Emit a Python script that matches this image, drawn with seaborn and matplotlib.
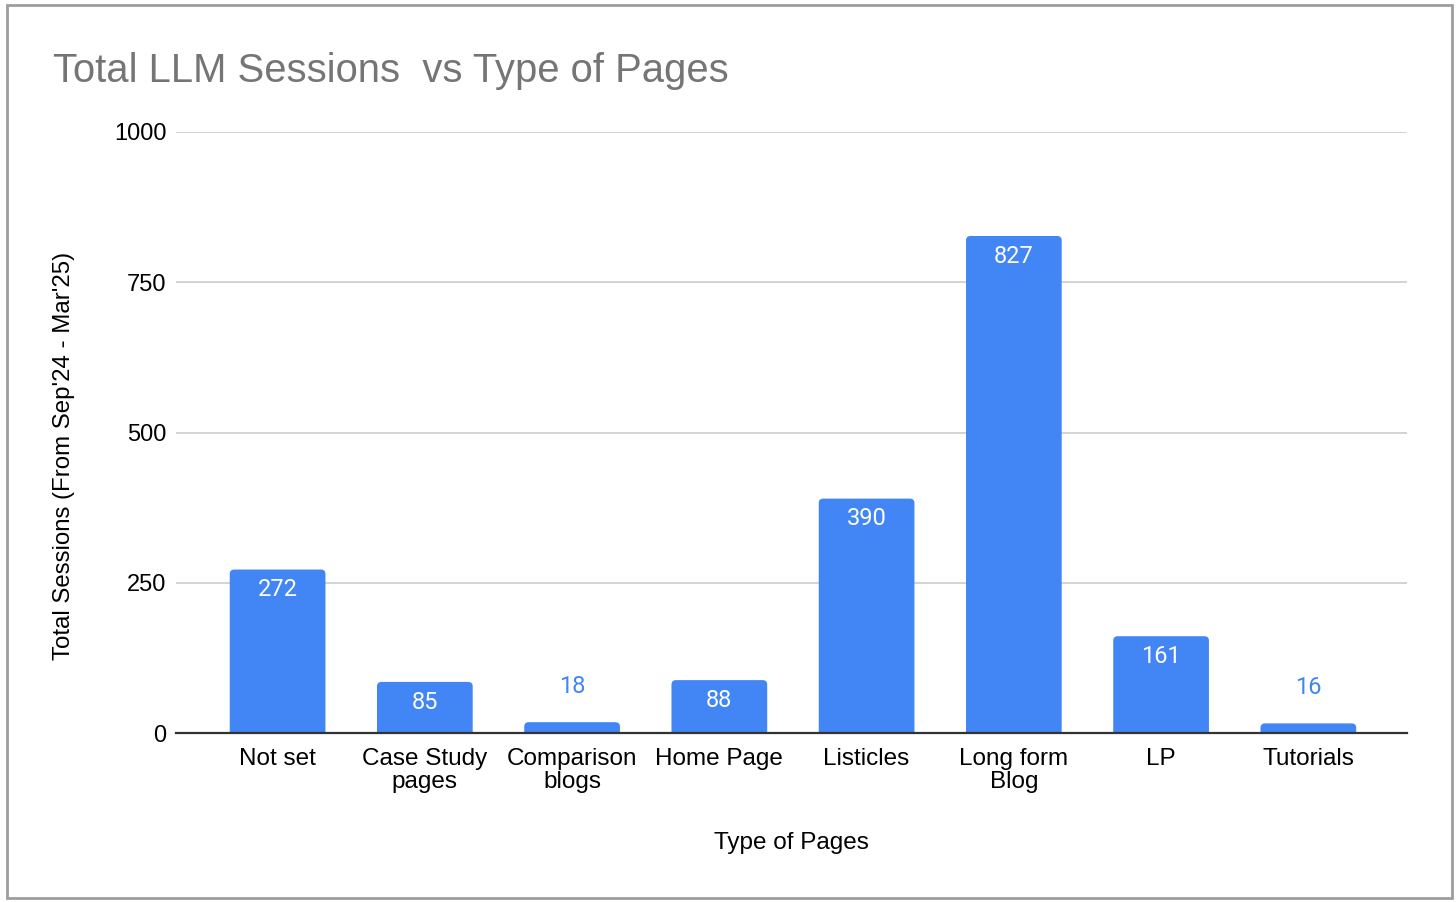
import numpy as np
import pandas as pd
import matplotlib
matplotlib.use("Agg")
import matplotlib.pyplot as plt
from matplotlib.patches import Rectangle, FancyBboxPatch
import seaborn as sns

# values
categories = ["Not set", "Case Study\npages", "Comparison\nblogs", "Home Page",
              "Listicles", "Long form\nBlog", "LP", "Tutorials"]
sessions = [272, 85, 18, 88, 390, 827, 161, 16]
y_ticks = [0, 250, 500, 750, 1000]

BLUE = "#4285f4"

sns.set_style("white")
plt.rcParams["font.family"] = ["Liberation Sans", "DejaVu Sans"]

df = pd.DataFrame({"Type of Pages": categories, "Sessions": sessions})

W, H = 1456, 902
fig = plt.figure(figsize=(W / 100, H / 100), dpi=100)
ax = fig.add_axes([176 / W, 1 - 733 / H, (1407 - 176) / W, (733 - 132) / H])

sns.barplot(data=df, x="Type of Pages", y="Sessions", color=BLUE, saturation=1,
            width=0.65, ax=ax, zorder=3)

ax.set_ylim(0, 1000)
ax.set_xlim(-0.69, 7.67)

# swap the plain rectangles for ones with softly rounded tops
px_x = (1407 - 176) / (7.67 + 0.69)   # pixels per x unit
px_y = (733 - 132) / 1000             # pixels per y unit
aspect = px_x / px_y
for rect in list(ax.patches):
    x, w, h = rect.get_x(), rect.get_width(), rect.get_height()
    rect.remove()
    ax.add_patch(FancyBboxPatch((x, -10), w, h + 10,
                                boxstyle=f"round,pad=0,rounding_size={4.5 / px_x}",
                                mutation_aspect=aspect, facecolor=BLUE,
                                edgecolor="none", zorder=3, clip_on=True))

ax.set_yticks(y_ticks)
ax.set_yticklabels([str(t) for t in y_ticks], fontsize=17, color="black")
ax.tick_params(axis="y", length=0, pad=7)
ax.tick_params(axis="x", length=0, pad=11, labelsize=17.5, labelcolor="black")
for lab in ax.get_xticklabels():
    lab.set_linespacing(1.05)
    lab.set_verticalalignment("top")
ax.grid(axis="y", color="#cccccc", linewidth=1.2, zorder=0)
ax.grid(axis="x", visible=False)
for side in ["top", "right", "left"]:
    ax.spines[side].set_visible(False)
ax.spines["bottom"].set_color("#333333")
ax.spines["bottom"].set_linewidth(1.6)
ax.spines["bottom"].set_zorder(4)

ax.set_xlabel("Type of Pages", fontsize=17.5, color="black", labelpad=28)
ax.set_ylabel("")
fig.text(64 / W, 1 - 456 / H, "Total Sessions (From Sep'24 - Mar'25)",
         fontsize=17.3, color="black", rotation=90, ha="center", va="center")

# value labels: white inside tall bars, blue above short ones
for i, v in enumerate(sessions):
    if v >= 50:
        ax.annotate(str(v), (i, v), xytext=(0, -14.5), textcoords="offset points",
                    ha="center", va="center", color="white", fontsize=17,
                    family=["Roboto", "DejaVu Sans"], zorder=5)
    else:
        ax.annotate(str(v), (i, v), xytext=(0, 26), textcoords="offset points",
                    ha="center", va="center", color=BLUE, fontsize=17,
                    family=["Roboto", "DejaVu Sans"], zorder=5)

fig.text(53 / W, 1 - 71 / H, "Total LLM Sessions  vs Type of Pages",
         fontsize=28.8, color="#757575", ha="left", va="center")

# chart frame as in the sheet
fig.patches.append(Rectangle((7 / W, 1 - 898 / H), (1452 - 7) / W,
                             (898 - 5) / H, transform=fig.transFigure,
                             fill=False, edgecolor="#9e9e9e", linewidth=2))

fig.savefig("out.png", dpi=100)
